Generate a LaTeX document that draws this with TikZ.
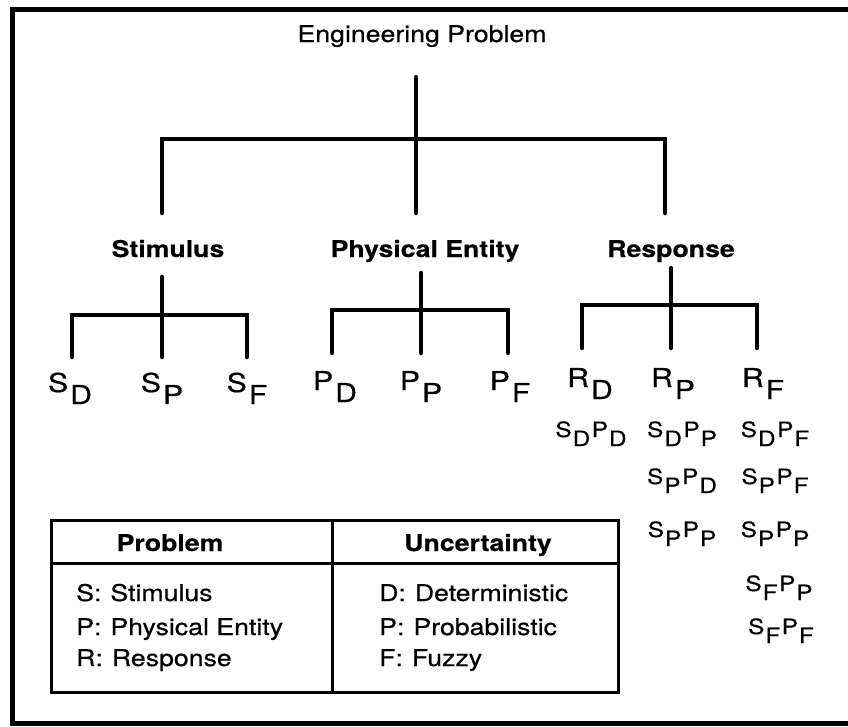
\documentclass[tikz,border=0pt]{standalone}
\usepackage{fontspec}
\setmainfont{TeX Gyre Heros}[FakeStretch=1.16,UprightFeatures={FakeBold=0.5},BoldFeatures={FakeBold=0.4}]
% letter with a lowered index of the same size
\newcommand{\lsub}[2]{#1\kern2pt\raisebox{-12pt}{#2}}
% pair of indexed letters, e.g. S_D P_D
\newcommand{\pairsub}[4]{#1\kern1pt\raisebox{-9pt}{#2}\kern1.5pt#3\kern1pt\raisebox{-9pt}{#4}}
\begin{document}
\begin{tikzpicture}[x=1pt,y=-1pt,
  tree/.style={line width=4.5pt,line cap=round,line join=miter},
  frameline/.style={line width=5pt},
  tabline/.style={line width=3pt},
  title/.style={font=\fontsize{23}{27}\selectfont,inner sep=0pt,anchor=base},
  cat/.style={font=\fontsize{23}{27}\selectfont\bfseries,inner sep=0pt,anchor=base},
  leaf/.style={font=\fontsize{26}{30}\selectfont,inner sep=0pt,anchor=base},
  combo/.style={font=\fontsize{21}{25}\selectfont,inner sep=0pt,anchor=base},
  head/.style={font=\fontsize{23}{27}\selectfont\bfseries,inner sep=0pt,anchor=base},
  entry/.style={font=\fontsize{23}{27}\selectfont,inner sep=0pt,anchor=base west},
]
\useasboundingbox (0,0) rectangle (848,726);

% open frame: top, left and bottom sides
\draw[frameline] (848,9) -- (12,9) -- (12,723) -- (848,723);

% root
\node[title] (ep) at (422,42) {Engineering Problem};
\coordinate (t0) at (416,77);
\coordinate (t1) at (416,139);
\coordinate (d1) at (162,213);
\coordinate (d2) at (416,213);
\coordinate (d3) at (665,213);
\draw[tree] (t0) -- (d2);
\draw[tree] (d1) |- (t1) -| (d3);

% categories
\node[cat] (stim) at (168,257) {Stimulus};
\node[cat] (phys) at (425,257) {Physical Entity};
\node[cat] (resp) at (671,257) {Response};

% stimulus branch
\coordinate (s0) at (162,277);
\coordinate (sj) at (162,315);
\coordinate (sa) at (72,357);
\coordinate (sb) at (162,357);
\coordinate (sc) at (247,357);
\draw[tree] (s0) -- (sb);
\draw[tree] (sa) |- (sj) -| (sc);

% physical entity branch
\coordinate (p0) at (421,273);
\coordinate (pj) at (421,310);
\coordinate (pa) at (332,353);
\coordinate (pb) at (421,353);
\coordinate (pc) at (508,353);
\draw[tree] (p0) -- (pb);
\draw[tree] (pa) |- (pj) -| (pc);

% response branch
\coordinate (r0) at (671,268);
\coordinate (rj) at (671,305);
\coordinate (ra) at (582,348);
\coordinate (rb) at (671,348);
\coordinate (rc) at (757,348);
\draw[tree] (r0) -- (rb);
\draw[tree] (ra) |- (rj) -| (rc);

% leaves
\node[leaf] (SD) at (70,392) {\lsub{S}{D}};
\node[leaf] (SP) at (162,392) {\lsub{S}{P}};
\node[leaf] (SF) at (247,392) {\lsub{S}{F}};
\node[leaf] (PD) at (335,390) {\lsub{P}{D}};
\node[leaf] (PP) at (421,390) {\lsub{P}{P}};
\node[leaf] (PF) at (510,390) {\lsub{P}{F}};
\node[leaf] (RD) at (590,387) {\lsub{R}{D}};
\node[leaf] (RP) at (673,387) {\lsub{R}{P}};
\node[leaf] (RF) at (763,387) {\lsub{R}{F}};

% combinations under each response
\node[combo] (c11) at (591,437) {\pairsub{S}{D}{P}{D}};
\node[combo] (c21) at (682,437) {\pairsub{S}{D}{P}{P}};
\node[combo] (c31) at (775,437) {\pairsub{S}{D}{P}{F}};
\node[combo] (c22) at (682,484) {\pairsub{S}{P}{P}{D}};
\node[combo] (c32) at (775,484) {\pairsub{S}{P}{P}{F}};
\node[combo] (c23) at (682,537) {\pairsub{S}{P}{P}{P}};
\node[combo] (c33) at (775,537) {\pairsub{S}{P}{P}{P}};
\node[combo] (c34) at (779,591) {\pairsub{S}{F}{P}{P}};
\node[combo] (c35) at (781,634) {\pairsub{S}{F}{P}{F}};

% legend table
\draw[tabline] (51,520) rectangle (618,692);
\draw[tabline] (51,563) -- (618,563);
\draw[tabline] (332,520) -- (332,692);
\node[head] (hp) at (170,551) {Problem};
\node[head] (hu) at (478,551) {Uncertainty};
\node[entry] (e1) at (76,601) {S:\hspace{9pt}Stimulus};
\node[entry] (e2) at (76,635) {P:\hspace{9pt}Physical Entity};
\node[entry] (e3) at (76,666) {R:\hspace{9pt}Response};
\node[entry] (u1) at (379,601) {D:\hspace{9pt}Deterministic};
\node[entry] (u2) at (379,635) {P:\hspace{9pt}Probabilistic};
\node[entry] (u3) at (379,666) {F:\hspace{9pt}Fuzzy};
\end{tikzpicture}
\end{document}
